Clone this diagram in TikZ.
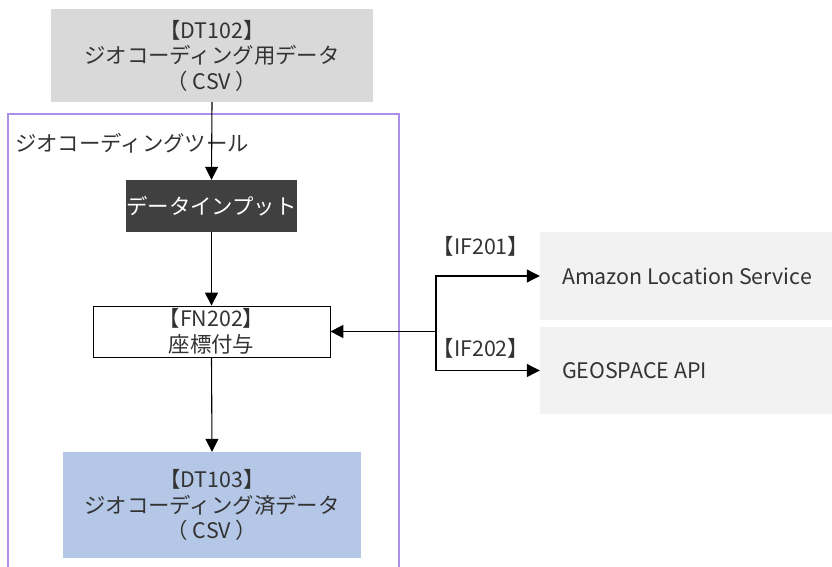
\documentclass[tikz,border=0pt]{standalone}
\usepackage{fontspec}
\setmainfont{Noto Sans CJK JP}
\usetikzlibrary{arrows.meta}
\definecolor{txt}{HTML}{333333}
\definecolor{gray1}{HTML}{D9D9D9}
\definecolor{dark}{HTML}{404040}
\definecolor{blue1}{HTML}{B4C7E7}
\definecolor{light}{HTML}{F2F2F2}
\definecolor{frame}{HTML}{AB8FE8}
\newcommand{\lefttext}[1]{\makebox[248pt][l]{#1}}
\tikzset{
  base/.style={inner sep=0pt, align=center, text=txt, font=\fontsize{21.4}{25.5}\selectfont},
  databox/.style={base, fill=gray1},
  darkbox/.style={base, fill=dark, text=white},
  funcbox/.style={base, draw=black, line width=0.8pt, fill=white},
  outbox/.style={base, fill=blue1},
  extbox/.style={base, fill=light, inner xsep=22pt, minimum width=292pt},
  lbl/.style={base},
  conn/.style={line width=1.1pt, -{Triangle[length=13pt,width=13pt]}},
}
\begin{document}
\begin{tikzpicture}[x=1pt,y=-1pt]
\useasboundingbox (0,0) rectangle (832,567);
% tool frame
\draw[frame, line width=1.8pt] (8,570) -- (8,114) -- (399,114) -- (399,570);
\node[lbl, anchor=west] (toollbl) at (15,143) {ジオコーディングツール};

\node[databox, minimum width=322pt, minimum height=93pt] (dt102) at (212,55.5) {【DT102】\\ジオコーディング用データ\\（ CSV ）};
\node[darkbox, minimum width=171pt, minimum height=52pt] (input) at (211.5,206) {データインプット};
\node[funcbox, minimum width=237pt, minimum height=51pt] (fn202) at (211.5,331.5) {【FN202】\\座標付与};
\node[outbox, minimum width=298pt, minimum height=106pt] (dt103) at (212,505) {【DT103】\\ジオコーディング済データ\\（ CSV ）};

\node[extbox, minimum height=88pt] (amazon) at (686,276) {\lefttext{Amazon Location Service}};
\node[extbox, minimum height=87pt] (geo) at (686,370.5) {\lefttext{GEOSPACE API}};

\coordinate (j) at (436,331.5);
\node[lbl] (if201) at (481,246) {【IF201】};
\node[lbl] (if202) at (481,348) {【IF202】};

\draw[conn] (dt102.south) -- (input.north);
\draw[conn] (input.south) -- (fn202.north);
\draw[conn] (fn202.south) -- (dt103.north);
\draw[conn, line width=1.6pt] (j) -- (fn202.east);
\draw[conn] (j) |- (amazon.west);
\draw[conn] (j) |- (geo.west);
\end{tikzpicture}
\end{document}
